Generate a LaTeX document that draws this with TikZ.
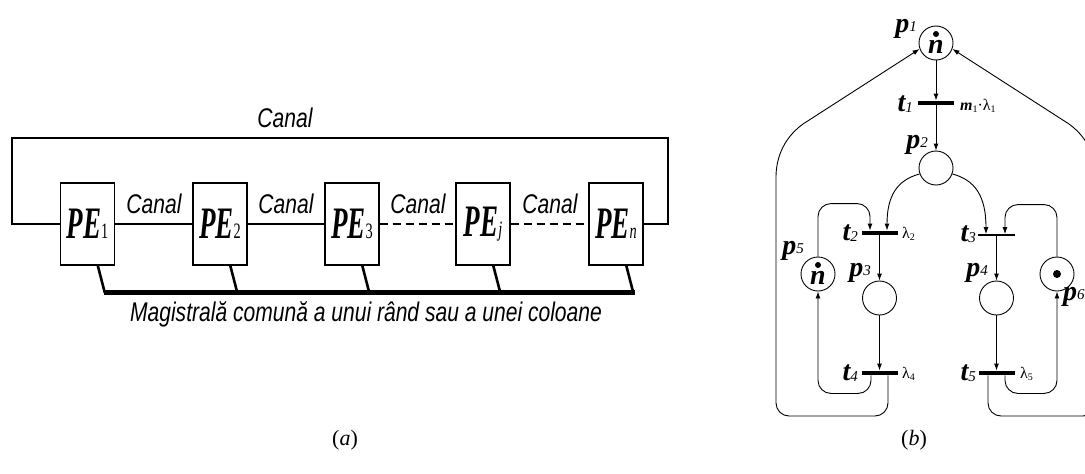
\documentclass[tikz,border=0pt]{standalone}
\usepackage{fontspec}
\setmainfont{Liberation Serif}
\newfontfamily\sansnarrow[FakeStretch=0.78]{Liberation Sans}
\newfontfamily\penarrow[FakeStretch=0.6]{Liberation Serif}
\newfontfamily\pesubnarrow[FakeStretch=0.65]{Liberation Serif}
\usetikzlibrary{arrows.meta,calc}

\newcommand\PElabel[1]{{\penarrow\bfseries\itshape\fontsize{45}{45}\selectfont PE}{\pesubnarrow\fontsize{22}{22}\selectfont #1}}
\newcommand\pnP[2]{{\bfseries\itshape\fontsize{28}{28}\selectfont #1}\raisebox{0.3pt}{\itshape\fontsize{15}{15}\selectfont #2}}
\newcommand\pnT[2]{{\bfseries\itshape\fontsize{28}{28}\selectfont #1}\raisebox{-1pt}{\itshape\fontsize{15}{15}\selectfont #2}}
\newcommand\lamsub[1]{λ\raisebox{-2pt}{\fontsize{10}{10}\selectfont #1}}

\tikzset{
 pebox/.style={draw, line width=1.4pt, minimum width=54pt, minimum height=82pt, inner sep=0pt},
 hline/.style={line width=1.4pt},
 dline/.style={line width=1.4pt, dash pattern=on 8pt off 5pt},
 busleg/.style={line width=2.6pt},
 busline/.style={line width=4.8pt},
 canal/.style={font=\sansnarrow\itshape\fontsize{27}{27}\selectfont, inner sep=0pt},
 caption/.style={font=\fontsize{22}{22}\selectfont, inner sep=0pt},
 place/.style={circle, draw, line width=0.9pt, minimum size=34pt, inner sep=0pt},
 tbar/.style={fill=black, minimum width=36pt, minimum height=4.5pt, inner sep=0pt},
 tthin/.style={fill=black, minimum width=37pt, minimum height=1.3pt, inner sep=0pt},
 pnlab/.style={inner sep=0pt},
 ratelab/.style={inner sep=0pt, font=\fontsize{16}{16}\selectfont},
 arc/.style={line width=0.9pt, -{Latex[length=7pt,width=5pt]}},
 token/.style={circle, fill=black, inner sep=0pt, minimum size=6pt},
}

\begin{document}
\begin{tikzpicture}[x=1pt,y=-1pt]
\useasboundingbox (0,0) rectangle (1085,474);
\clip (0,0) rectangle (1085,474);

% ---------------- (a) ----------------
\node[pebox] (pe1) at (87.5,224) {\PElabel{1}};
\node[pebox] (pe2) at (220,224) {\PElabel{2}};
\node[pebox] (pe3) at (352,224) {\PElabel{3}};
\node[pebox] (pej) at (483,224) {\PElabel{\itshape j}};
\node[pebox] (pen) at (616,224) {\PElabel{\itshape n}};

\draw[hline] (pe1.east) -- (pe2.west);
\draw[hline] (pe2.east) -- (pe3.west);
\draw[dline] (pe3.east) -- (pej.west);
\draw[dline] (pej.east) -- (pen.west);

\coordinate (oleft) at (12,138);
\coordinate (oright) at (668,138);
\draw[hline] (pe1.west) -| (oleft) -- (oright) |- (pen.east);

\node[canal] (c0) at (285,118) {Canal};
\node[canal] (c1) at (154,204) {Canal};
\node[canal] (c2) at (286,204) {Canal};
\node[canal] (c3) at (418,204) {Canal};
\node[canal] (c4) at (550,204) {Canal};

\foreach \b/\k in {pe1/1,pe2/2,pe3/3,pej/4,pen/5}{
  \coordinate (s\k) at ($(\b.south west)+(38,0)$);
  \coordinate (k\k) at ($(\b.south west)+(45,27)$);
  \draw[busleg] (s\k) -- (k\k);
}
\draw[busline] ($(k1)+(-1.2,0)$) -- ($(k5)+(1.2,0)$);

\node[canal] (mag) at (366,314) {Magistrală comună a unui rând sau a unei coloane};

\node[caption] (capa) at (345,440) {(\textit{a})};
\node[caption] (capb) at (914,440) {(\textit{b})};

% ---------------- (b) ----------------
\node[place] (p1) at (936,43) {};
\node[place] (p2) at (936,168) {};
\node[place] (p5) at (818,274) {};
\node[place] (p3) at (879.5,298) {};
\node[place] (p4) at (996.5,298) {};
\node[place] (p6) at (1057,274) {};

\node[token] (p1d) at ($(p1)+(0,-9)$) {};
\node[pnlab, font=\bfseries\itshape\fontsize{28}{28}\selectfont] (p1n) at ($(p1)+(0,4)$) {n};
\node[token] (p5d) at ($(p5)+(0,-9)$) {};
\node[pnlab, font=\bfseries\itshape\fontsize{28}{28}\selectfont] (p5n) at ($(p5)+(0,4)$) {n};
\node[token, minimum size=8pt] (p6d) at (p6) {};

\node[tbar] (t1) at (936,103) {};
\node[tbar] (t2) at (879.5,233) {};
\node[tthin] (t3) at (996.5,235) {};
\node[tbar] (t4) at (879.5,373) {};
\node[tbar] (t5) at (996.5,373) {};

% labels
\node[pnlab, anchor=base east] (lp1) at (917,32) {\pnP{p}{1}};
\node[pnlab, anchor=base east] (lp2) at (928,148) {\pnP{p}{2}};
\node[pnlab, anchor=base east] (lp5) at (804,254) {\pnP{p}{5}};
\node[pnlab, anchor=base east] (lp3) at (871,276) {\pnP{p}{3}};
\node[pnlab, anchor=base east] (lp4) at (988,276) {\pnP{p}{4}};
\node[pnlab, anchor=base west] (lp6) at (1063,300) {\pnP{p}{6}};

\node[pnlab, anchor=base east] (lt1) at (913,111) {\pnT{t}{1}};
\node[pnlab, anchor=base east] (lt2) at (858,240) {\pnT{t}{2}};
\node[pnlab, anchor=base east] (lt3) at (976,241) {\pnT{t}{3}};
\node[pnlab, anchor=base east] (lt4) at (858,380) {\pnT{t}{4}};
\node[pnlab, anchor=base east] (lt5) at (976,380) {\pnT{t}{5}};

\node[ratelab, anchor=west] (r1) at (960,106) {{\bfseries\itshape m}\raisebox{-2pt}{\fontsize{10}{10}\selectfont 1}·\lamsub{1}};
\node[ratelab, anchor=west] (r2) at (902,234) {\lamsub{2}};
\node[ratelab, anchor=west] (r4) at (902,374) {\lamsub{4}};
\node[ratelab, anchor=west] (r5) at (1020,374) {\lamsub{5}};

% straight arcs
\draw[arc] (p1.south) -- (t1.north);
\draw[arc] (t1.south) -- (p2.north);
\draw[arc] (t2.south) -- (p3.north);
\draw[arc] (p3.south) -- (t4.north);
\draw[arc] (t3.south) -- (p4.north);
\draw[arc] (p4.south) -- (t5.north);

% attachment points on the bars
\coordinate (t2a) at ($(t2.north)+(-9.5,0)$);
\coordinate (t2b) at ($(t2.north)+(7.5,0)$);
\coordinate (t3a) at ($(t3.north)+(-10.5,0)$);
\coordinate (t3b) at ($(t3.north)+(8.5,0)$);
\coordinate (t4a) at ($(t4.south)+(-8.5,0)$);
\coordinate (t4b) at ($(t4.south)+(8.5,0)$);
\coordinate (t5a) at ($(t5.south)+(8.5,0)$);
\coordinate (t5b) at ($(t5.south)+(-8.5,0)$);

% p2 -> t2, t3
\draw[arc] (p2.200) .. controls (897,180) and (887,196) .. (t2b);
\draw[arc] (p2.340) .. controls (975,180) and (986,196) .. (t3a);

% p5 -> t2, p6 -> t3
\draw[arc, rounded corners=13pt] (p5.north) -- ++(0,-53) -| (t2a);
\draw[arc, rounded corners=13pt] (p6.north) -- ++(0,-52) -| (t3b);

% t4 -> p5, t5 -> p6
\draw[arc, rounded corners=13pt] (t4a) -- ++(0,18) -| (p5.south);
\draw[arc, rounded corners=13pt] (t5a) -- ++(0,18) -| (p6.south);

% t4 -> p1, t5 -> p1 (outer loops)
\coordinate (lb) at (776,416);
\coordinate (lv) at (776,190);
\coordinate (ld) at (803,124);
\coordinate (rb) at (1096,416);
\coordinate (rv) at (1096,190);
\coordinate (rd) at (1069,124);
\draw[arc] [rounded corners=13pt] (t4b) |- (lb) -- (lv) [sharp corners] .. controls (776,162) and (781,140) .. (ld) -- (p1.200);
\draw[arc] [rounded corners=13pt] (t5b) |- (rb) -- (rv) [sharp corners] .. controls (1096,162) and (1091,140) .. (rd) -- (p1.340);

\end{tikzpicture}
\end{document}
